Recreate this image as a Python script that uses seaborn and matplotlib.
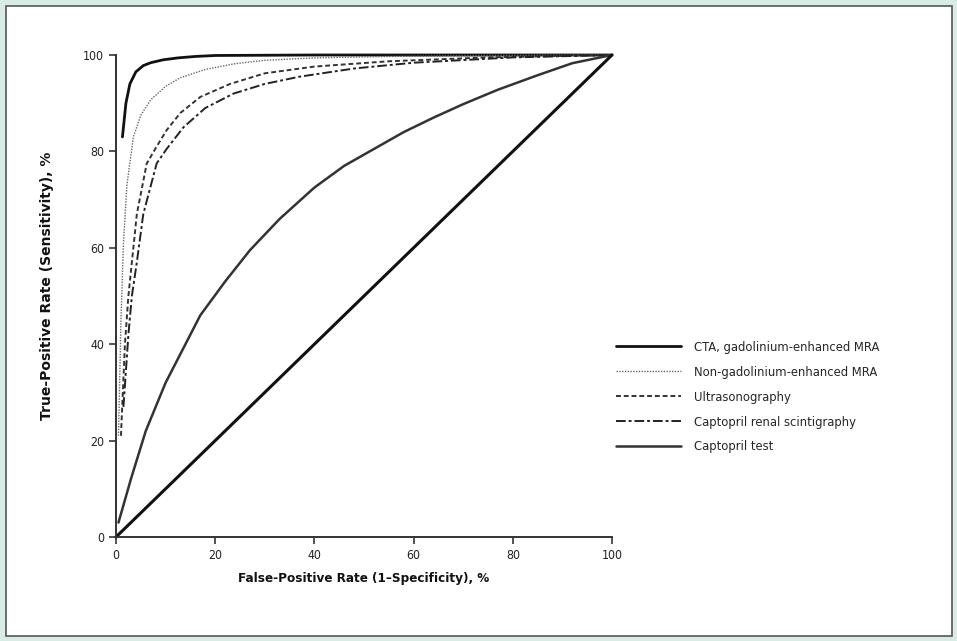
import numpy as np
import pandas as pd
import seaborn as sns
import matplotlib.pyplot as plt
from matplotlib.patches import Rectangle

# ROC curves (x = 1-specificity %, y = sensitivity %)
cta_x = [1.3, 2.0, 2.8, 4.0, 5.5, 7.0, 9.5, 12.5, 16, 20, 40, 60, 80, 100]
cta_y = [83, 90, 94, 96.5, 97.8, 98.4, 99.0, 99.4, 99.7, 99.9, 100, 100, 100, 100]

nongad_x = [0.5, 1.0, 1.5, 2.2, 3.5, 5.0, 7.0, 10, 13, 18, 24, 30, 40, 55, 75, 100]
nongad_y = [21, 45, 61, 73, 83, 87.5, 90.7, 93.5, 95.3, 97.0, 98.2, 98.9, 99.4, 99.7, 99.9, 100]

us_x = [1.0, 1.8, 2.5, 3.2, 4.2, 6.2, 7.9, 10.2, 13, 17, 23, 30, 40, 55, 75, 100]
us_y = [21, 40, 50, 57, 67, 77.5, 80.5, 84.4, 88, 91.3, 94.0, 96.2, 97.6, 98.7, 99.5, 100]

renal_x = [1.5, 2.5, 3.2, 4.2, 5.5, 8.2, 10.2, 13.6, 18, 23.7, 30, 37, 48, 60, 80, 100]
renal_y = [27, 42, 50, 57, 67, 77.5, 80.5, 85.0, 89, 92.0, 94.0, 95.5, 97.2, 98.4, 99.5, 100]

capt_x = [0.5, 3, 6, 10, 14, 17, 22, 27, 33, 40, 46, 52, 58, 64, 70, 77, 85, 92, 100]
capt_y = [3, 12, 22, 32, 40, 46, 53, 59.5, 66, 72.5, 77, 80.5, 84, 87, 89.8, 92.8, 95.8, 98.3, 100]

diag_x = [0, 100]
diag_y = [0, 100]

labels = ['CTA, gadolinium-enhanced MRA', 'Non-gadolinium-enhanced MRA',
          'Ultrasonography', 'Captopril renal scintigraphy', 'Captopril test']

sns.set_style('ticks')
plt.rcParams['font.family'] = ['DejaVu Sans']
plt.rcParams['font.stretch'] = 'condensed'

fig = plt.figure(figsize=(9.57, 6.41), dpi=100, facecolor='#d7ece4')
fig.patches.append(Rectangle((6 / 957, 5 / 641), 946 / 957, 630 / 641,
                             transform=fig.transFigure, facecolor='white',
                             edgecolor='#555555', linewidth=1.2, zorder=-10))

ax = fig.add_axes([116 / 957, 104 / 641, 496 / 957, 482 / 641])
ax.set_facecolor('none')

series = [
    (cta_x, cta_y, dict(color='#111111', lw=2.0, ls='-')),
    (nongad_x, nongad_y, dict(color='#666666', lw=1.0, ls=(0, (1, 1)))),
    (us_x, us_y, dict(color='#333333', lw=1.4, ls=(0, (2.5, 1.5)))),
    (renal_x, renal_y, dict(color='#222222', lw=1.4, ls=(0, (5, 1.5, 1.5, 1.5)))),
    (capt_x, capt_y, dict(color='#333333', lw=1.8, ls='-')),
]
for (xs, ys, st), lab in zip(series, labels):
    df = pd.DataFrame({'x': xs, 'y': ys})
    sns.lineplot(data=df, x='x', y='y', ax=ax, estimator=None, sort=False,
                 color=st['color'], linewidth=st['lw'], linestyle=st['ls'],
                 label=lab, clip_on=False)

sns.lineplot(data=pd.DataFrame({'x': diag_x, 'y': diag_y}), x='x', y='y', ax=ax,
             estimator=None, color='#111111', linewidth=2.2, clip_on=False)

ax.set_xlim(0, 100)
ax.set_ylim(0, 100)
ax.set_xticks([0, 20, 40, 60, 80, 100])
ax.set_yticks([0, 20, 40, 60, 80, 100])
ax.tick_params(labelsize=8.8, length=5, width=1.2, color='#333333', labelcolor='#222222')
for s in ['left', 'bottom']:
    ax.spines[s].set_linewidth(1.4)
    ax.spines[s].set_color('#333333')
sns.despine(ax=ax)

ax.set_xlabel('False-Positive Rate (1\u2013Specificity), %', fontsize=9.6,
              fontweight='bold', labelpad=7, color='#111111')
ax.set_ylabel('True-Positive Rate (Sensitivity), %', fontsize=10,
              fontweight='bold', fontstretch='normal', color='#111111')
ax.yaxis.set_label_coords(-0.125, 0.521)

leg = ax.legend(loc='upper left', bbox_to_anchor=(0.985, 0.431), frameon=False,
                fontsize=9.3, handlelength=5.0, handletextpad=1.0,
                labelspacing=0.92)

fig.savefig('out.png', dpi=100, facecolor=fig.get_facecolor())
